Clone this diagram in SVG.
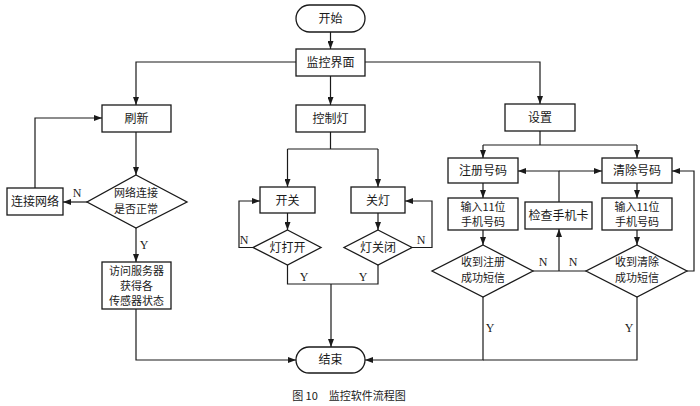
<svg xmlns="http://www.w3.org/2000/svg" width="700" height="406" viewBox="0 0 700 406">
<style>
.b{fill:#fff;stroke:#1a1a1a;stroke-width:1.3}
.t{font-family:"Noto Sans CJK SC","Liberation Serif",serif;font-size:12px;fill:#1a1a1a;text-anchor:middle}
.s{font-size:11px}
.l{font-family:"Liberation Serif",serif;font-size:12px;fill:#1a1a1a;text-anchor:middle}
.c{fill:none;stroke:#1a1a1a;stroke-width:1.2}
.a{marker-end:url(#ar)}
</style>
<defs>
<marker id="ar" viewBox="0 0 8 6" refX="8" refY="3" markerWidth="8" markerHeight="6" markerUnits="userSpaceOnUse" orient="auto">
<path d="M0,0 L8,3 L0,6 z" fill="#1a1a1a"/>
</marker>
</defs>
<rect width="700" height="406" fill="#fff"/>
<g id="connectors">
<path class="c a" d="M330.5,32 V49"/>
<path class="c a" d="M296,62 H136 V105"/>
<path class="c a" d="M330.5,76 V105"/>
<path class="c a" d="M365,62 H540 V104"/>
<path class="c a" d="M136,132 V175"/>
<path class="c a" d="M87,202 H63"/>
<path class="c a" d="M35,188 V118 H102"/>
<path class="c a" d="M136,228 V262"/>
<path class="c a" d="M136,309 V360 H296"/>
<path class="c" d="M330.5,132 V149 M287.5,149 H378"/>
<path class="c a" d="M287.5,149 V187"/>
<path class="c a" d="M378,149 V187"/>
<path class="c a" d="M287.5,213 V230"/>
<path class="c a" d="M378,213 V230"/>
<path class="c a" d="M253,247.5 H239 V201 H260"/>
<path class="c a" d="M412,247.5 H432 V201 H405"/>
<path class="c" d="M287.5,265 V284 H378 V265"/>
<path class="c a" d="M331,284 V347"/>
<path class="c" d="M540,131 V145 M483,145 H637"/>
<path class="c a" d="M483,145 V158"/>
<path class="c a" d="M637,145 V158"/>
<path class="c a" d="M483,183 V198"/>
<path class="c a" d="M637,183 V198"/>
<path class="c a" d="M483,230 V245"/>
<path class="c a" d="M637,230 V245"/>
<path class="c a" d="M559,202 V171 H518"/>
<path class="c a" d="M559,171 H602"/>
<path class="c" d="M533,271 H586"/>
<path class="c a" d="M559,271 V229"/>
<path class="c a" d="M687,271 H694 V171 H672"/>
<path class="c a" d="M483,297 V360 H365"/>
<path class="c" d="M637,297 V360 H483"/>
<text class="l" x="77" y="197">N</text>
<text class="l" x="144" y="249">Y</text>
<text class="l" x="244" y="244">N</text>
<text class="l" x="421" y="244">N</text>
<text class="l" x="304" y="281">Y</text>
<text class="l" x="363" y="281">Y</text>
<text class="l" x="543" y="266">N</text>
<text class="l" x="573" y="266">N</text>
<text class="l" x="490" y="332">Y</text>
<text class="l" x="629" y="332">Y</text>
</g>
<g id="start"><rect class="b" x="296" y="5" width="69" height="27" rx="13.5"/><text class="t" x="330.5" y="23">开始</text></g>
<g id="monitor"><rect class="b" x="296" y="49" width="69" height="27"/><text class="t" x="330.5" y="67">监控界面</text></g>
<g id="refresh"><rect class="b" x="102" y="105" width="69" height="27"/><text class="t" x="136.5" y="123">刷新</text></g>
<g id="ctrl"><rect class="b" x="296" y="105" width="69" height="27"/><text class="t" x="330.5" y="123">控制灯</text></g>
<g id="settings"><rect class="b" x="505" y="104" width="70" height="27"/><text class="t" x="540" y="122">设置</text></g>
<g id="netcheck"><polygon class="b" points="136,175 187,202 136,228 87,202"/><text class="t s" x="136" y="197">网络连接</text><text class="t s" x="136" y="213">是否正常</text></g>
<g id="connect"><rect class="b" x="7" y="188" width="56" height="27"/><text class="t" x="35" y="206">连接网络</text></g>
<g id="access"><rect class="b" x="102" y="262" width="69" height="47"/><text class="t s" x="136.5" y="275">访问服务器</text><text class="t s" x="136.5" y="290">获得各</text><text class="t s" x="136.5" y="305">传感器状态</text></g>
<g id="switch"><rect class="b" x="260" y="187" width="55" height="26"/><text class="t" x="287.5" y="205">开关</text></g>
<g id="off"><rect class="b" x="351" y="187" width="54" height="26"/><text class="t" x="378" y="205">关灯</text></g>
<g id="ison"><polygon class="b" points="287.5,230 321,247.5 287.5,265 253,247.5"/><text class="t" x="287.5" y="252">灯打开</text></g>
<g id="isoff"><polygon class="b" points="378,230 412,247.5 378,265 344,247.5"/><text class="t" x="378" y="252">灯关闭</text></g>
<g id="reg"><rect class="b" x="448" y="158" width="70" height="25"/><text class="t" x="483" y="175">注册号码</text></g>
<g id="clr"><rect class="b" x="602" y="158" width="70" height="25"/><text class="t" x="637" y="175">清除号码</text></g>
<g id="input1"><rect class="b" x="448" y="198" width="70" height="32"/><text class="t s" x="483" y="211">输入11位</text><text class="t s" x="483" y="226">手机号码</text></g>
<g id="input2"><rect class="b" x="602" y="198" width="70" height="32"/><text class="t s" x="637" y="211">输入11位</text><text class="t s" x="637" y="226">手机号码</text></g>
<g id="sim"><rect class="b" x="525" y="202" width="67" height="27"/><text class="t" x="558.5" y="220">检查手机卡</text></g>
<g id="regok"><polygon class="b" points="483,245 533,271 483,297 432,271"/><text class="t s" x="483" y="266">收到注册</text><text class="t s" x="483" y="282">成功短信</text></g>
<g id="clrok"><polygon class="b" points="637,245 687,271 637,297 586,271"/><text class="t s" x="637" y="266">收到清除</text><text class="t s" x="637" y="282">成功短信</text></g>
<g id="end"><rect class="b" x="296" y="347" width="69" height="26" rx="13"/><text class="t" x="330.5" y="364">结束</text></g>
<text class="t" x="349" y="400" style="font-size:11px">图 10　监控软件流程图</text>
</svg>
